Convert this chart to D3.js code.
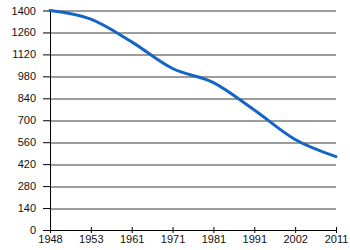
<!DOCTYPE html>
<html>
<head>
<meta charset="utf-8">
<script src="https://cdn.jsdelivr.net/npm/d3@7"></script>
<style>
  body { margin: 0; background: #fff; }
  svg text { font-family: "Liberation Sans", Arial, sans-serif; font-size: 11px; fill: #111; }
</style>
</head>
<body>
<div id="chart"></div>
<script>
/*
    DATA
*/
let years = ["1948", "1953", "1961", "1971", "1981", "1991", "2002", "2011"];
let values = [1400, 1345, 1200, 1030, 940, 765, 577, 468];
let yTicks = [0, 140, 280, 420, 560, 700, 840, 980, 1120, 1260, 1400];

/*
    LAYOUT
*/
let SIZE = { width: 350, height: 250 };
let MARGIN = { top: 10.5, bot: 20, left: 50, right: 14 };
let innerW = SIZE.width - MARGIN.left - MARGIN.right;
let innerH = SIZE.height - MARGIN.top - MARGIN.bot;

var svg = d3.select("#chart")
    .append("svg")
    .attr("width", SIZE.width)
    .attr("height", SIZE.height);
var g = svg.append("g")
    .attr("transform", `translate(${MARGIN.left}, ${MARGIN.top})`);

var x = d3.scalePoint().domain(years).range([0, innerW]);
var y = d3.scaleLinear().domain([0, 1400]).range([innerH, 0]);

// horizontal grid
g.selectAll("line.grid")
    .data(yTicks.filter(t => t > 0))
    .enter()
    .append("line")
    .attr("class", "grid")
    .attr("x1", 0)
    .attr("x2", innerW)
    .attr("y1", d => Math.round(y(d)) + 0.5)
    .attr("y2", d => Math.round(y(d)) + 0.5)
    .style("stroke", "#3a3a3a")
    .style("stroke-width", "1px");

// y axis
var yAxis = g.append("g")
    .call(d3.axisLeft(y).tickValues(yTicks).tickFormat(d3.format("d"))
        .tickSize(7).tickPadding(7).tickSizeOuter(0));
yAxis.select(".domain").style("stroke", "#000");
yAxis.selectAll(".tick line").style("stroke", "#000");

// x axis, ticks crossing the line
var xAxis = g.append("g")
    .attr("transform", `translate(0, ${innerH})`)
    .call(d3.axisBottom(x).tickSize(3).tickPadding(2).tickSizeOuter(0));
xAxis.select(".domain").style("stroke", "#000");
xAxis.selectAll(".tick line").attr("y1", -3).style("stroke", "#000");

// series
var lineFn = d3.line()
    .x((d, i) => x(years[i]))
    .y(d => y(d))
    .curve(d3.curveMonotoneX);

g.append("path")
    .datum(values)
    .attr("d", lineFn)
    .attr("fill", "none")
    .style("stroke", "#1565c6")
    .style("stroke-width", "3px")
    .style("stroke-linecap", "round");
</script>
</body>
</html>
